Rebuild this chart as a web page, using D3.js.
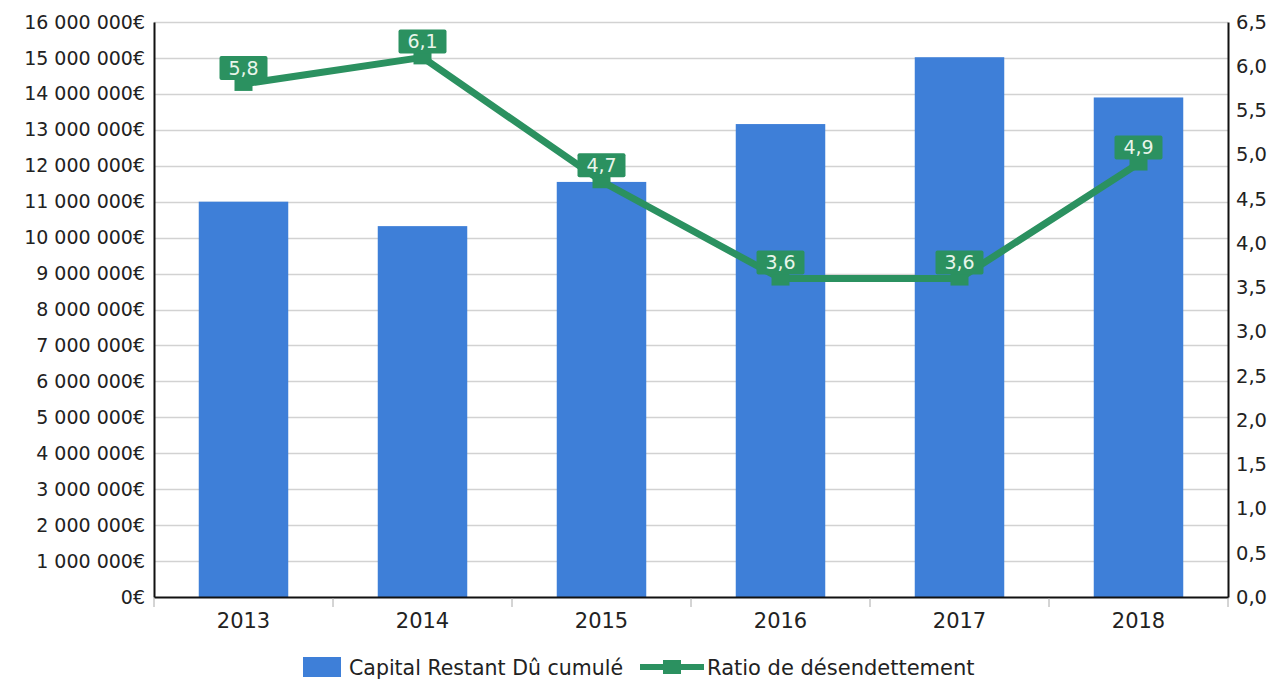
<!DOCTYPE html>
<html>
<head>
<meta charset="utf-8">
<script src="https://cdn.jsdelivr.net/npm/d3@7"></script>
<style>
  html, body { margin: 0; padding: 0; background: #fff; }
  svg { display: block; font-family: "DejaVu Sans", sans-serif; }
</style>
</head>
<body>
<svg id="chart" width="1280" height="679"></svg>
<script>
// Years on the category axis
const years = ["2013", "2014", "2015", "2016", "2017", "2018"];
// Outstanding capital, cumulated (euros)
const capital = [11000000, 10320000, 11550000, 13160000, 15020000, 13900000];
// Debt reduction ratio (years)
const ratio = [5.8, 6.1, 4.7, 3.6, 3.6, 4.9];
// Axis ticks
const leftTicks = d3.range(0, 16000001, 1000000);
const rightTicks = d3.range(0, 6.51, 0.5);
const seriesNames = ["Capital Restant Dû cumulé", "Ratio de désendettement"];

const BLUE = "#3e7fd8";
const GREEN = "#2b9160";
const TEXT = "#222";

const fr = d3.formatLocale({ decimal: ",", thousands: " ", grouping: [3], currency: ["", "€"] });
const fmtEuro = v => fr.format(",.0f")(v) + "€";
const fmtRatio = fr.format(".1f");

const svg = d3.select("#chart");
svg.append("rect").attr("width", 1280).attr("height", 679).attr("fill", "#fff");

const plot = { left: 154, right: 1228, top: 22, bottom: 597 };

const x = d3.scaleBand().domain(years).range([plot.left, plot.right])
  .paddingInner(0.5).paddingOuter(0.25);
const yL = d3.scaleLinear().domain([0, 16000000]).range([plot.bottom, plot.top]);
const yR = d3.scaleLinear().domain([0, 6.5]).range([plot.bottom, plot.top]);

// Horizontal grid
svg.append("g").selectAll("line").data(leftTicks.slice(1)).join("line")
  .attr("x1", plot.left).attr("x2", plot.right)
  .attr("y1", d => Math.round(yL(d)) + 0.5).attr("y2", d => Math.round(yL(d)) + 0.5)
  .attr("stroke", "#d2d2d2").attr("stroke-width", 1.5);

// Bars
svg.append("g").selectAll("rect").data(years).join("rect")
  .attr("x", d => x(d))
  .attr("width", x.bandwidth())
  .attr("y", (d, i) => yL(capital[i]))
  .attr("height", (d, i) => yL(0) - yL(capital[i]))
  .attr("fill", BLUE);

// Left axis
const axL = svg.append("g").attr("transform", `translate(${plot.left},0)`)
  .call(d3.axisLeft(yL).tickValues(leftTicks).tickFormat(fmtEuro).tickSize(0).tickPadding(9));
axL.select(".domain").attr("stroke", "#111").attr("stroke-width", 2);
axL.selectAll("text").attr("font-size", 19).attr("fill", TEXT).attr("font-family", "DejaVu Sans");

// Right axis
const axR = svg.append("g").attr("transform", `translate(${plot.right},0)`)
  .call(d3.axisRight(yR).tickValues(rightTicks).tickFormat(fmtRatio).tickSize(0).tickPadding(8));
axR.select(".domain").attr("stroke", "#111").attr("stroke-width", 2);
axR.selectAll("text").attr("font-size", 19.5).attr("fill", TEXT).attr("font-family", "DejaVu Sans");

// Bottom axis with ticks at category boundaries
const axB = svg.append("g").attr("transform", `translate(0,${plot.bottom})`)
  .call(d3.axisBottom(x).tickSize(0).tickPadding(16));
axB.select(".domain").attr("stroke", "#111").attr("stroke-width", 2);
axB.selectAll("text").attr("font-size", 21).attr("fill", TEXT).attr("font-family", "DejaVu Sans");
const bounds = d3.range(0, years.length + 1).map(i => plot.left + i * (plot.right - plot.left) / years.length);
svg.append("g").selectAll("line").data(bounds).join("line")
  .attr("x1", d => d).attr("x2", d => d)
  .attr("y1", plot.bottom + 1).attr("y2", plot.bottom + 10)
  .attr("stroke", "#aaa").attr("stroke-width", 1);

// Ratio line
const cx = d => x(d) + x.bandwidth() / 2;
const line = d3.line().x((d, i) => cx(years[i])).y(d => yR(d));
svg.append("path").datum(ratio).attr("d", line)
  .attr("fill", "none").attr("stroke", GREEN).attr("stroke-width", 7)
  .attr("stroke-linejoin", "round");

// Markers
svg.append("g").selectAll("rect").data(ratio).join("rect")
  .attr("x", (d, i) => cx(years[i]) - 9)
  .attr("y", d => yR(d) - 7)
  .attr("width", 18).attr("height", 14)
  .attr("fill", GREEN);

// Value labels
const lab = svg.append("g").selectAll("g").data(ratio).join("g")
  .attr("transform", (d, i) => `translate(${cx(years[i])},${yR(d) - 16})`);
lab.append("rect")
  .attr("x", -24).attr("y", -12).attr("width", 48).attr("height", 24).attr("rx", 2)
  .attr("fill", GREEN);
lab.append("text")
  .attr("text-anchor", "middle").attr("dy", "0.36em")
  .attr("font-size", 19).attr("fill", "#e8f5ea")
  .text(d => fmtRatio(d));

// Legend
const leg = svg.append("g");
leg.append("rect").attr("x", 303).attr("y", 657).attr("width", 38).attr("height", 20).attr("fill", BLUE);
leg.append("text").attr("x", 349).attr("y", 675).attr("font-size", 20.5).attr("fill", TEXT).text(seriesNames[0]);
leg.append("line").attr("x1", 640).attr("x2", 704).attr("y1", 667).attr("y2", 667)
  .attr("stroke", GREEN).attr("stroke-width", 6);
leg.append("rect").attr("x", 663).attr("y", 660).attr("width", 18).attr("height", 14).attr("fill", GREEN);
leg.append("text").attr("x", 707).attr("y", 675).attr("font-size", 21).attr("fill", TEXT).text(seriesNames[1]);
</script>
</body>
</html>
